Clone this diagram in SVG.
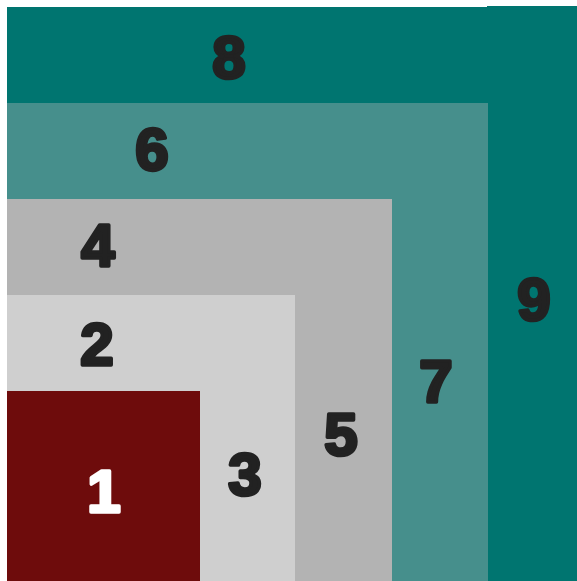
<svg xmlns="http://www.w3.org/2000/svg" width="577" height="581" viewBox="0 0 577 581">
<style>
.t{font-family:"Liberation Sans",Arial,sans-serif;font-weight:bold;font-size:60px;text-anchor:middle;fill:#222;stroke:#222;stroke-width:3.5px;stroke-linejoin:round}
.w{fill:#fff;stroke:#fff}
.c8{fill:#007570}.c6{fill:#468f8c}.c4{fill:#b3b3b3}.c2{fill:#cfcfcf}.c1{fill:#6e0c0c}
</style>
<rect width="577" height="581" fill="#fff"/>
<g id="n9"><rect class="c8" x="487" y="6" width="90" height="575"/><text class="t" x="534" y="320">9</text></g>
<g id="n8"><rect class="c8" x="7" y="7" width="481" height="96"/><text class="t" x="229" y="78">8</text></g>
<g id="n7"><rect class="c6" x="392" y="103" width="96" height="478"/><text class="t" x="436" y="402">7</text></g>
<g id="n6"><rect class="c6" x="7" y="103" width="385" height="96"/><text class="t" x="152" y="170">6</text></g>
<g id="n5"><rect class="c4" x="295" y="199" width="97" height="382"/><text class="t" x="341" y="455">5</text></g>
<g id="n4"><rect class="c4" x="7" y="199" width="288" height="96"/><text class="t" x="98" y="266">4</text></g>
<g id="n3"><rect class="c2" x="200" y="295" width="95" height="286"/><text class="t" x="245" y="495">3</text></g>
<g id="n2"><rect class="c2" x="7" y="295" width="193" height="96"/><text class="t" x="97" y="365">2</text></g>
<g id="n1"><rect class="c1" x="7" y="391" width="193" height="190"/><text class="t w" x="104" y="512">1</text></g>
<g id="connectors"></g>
</svg>
